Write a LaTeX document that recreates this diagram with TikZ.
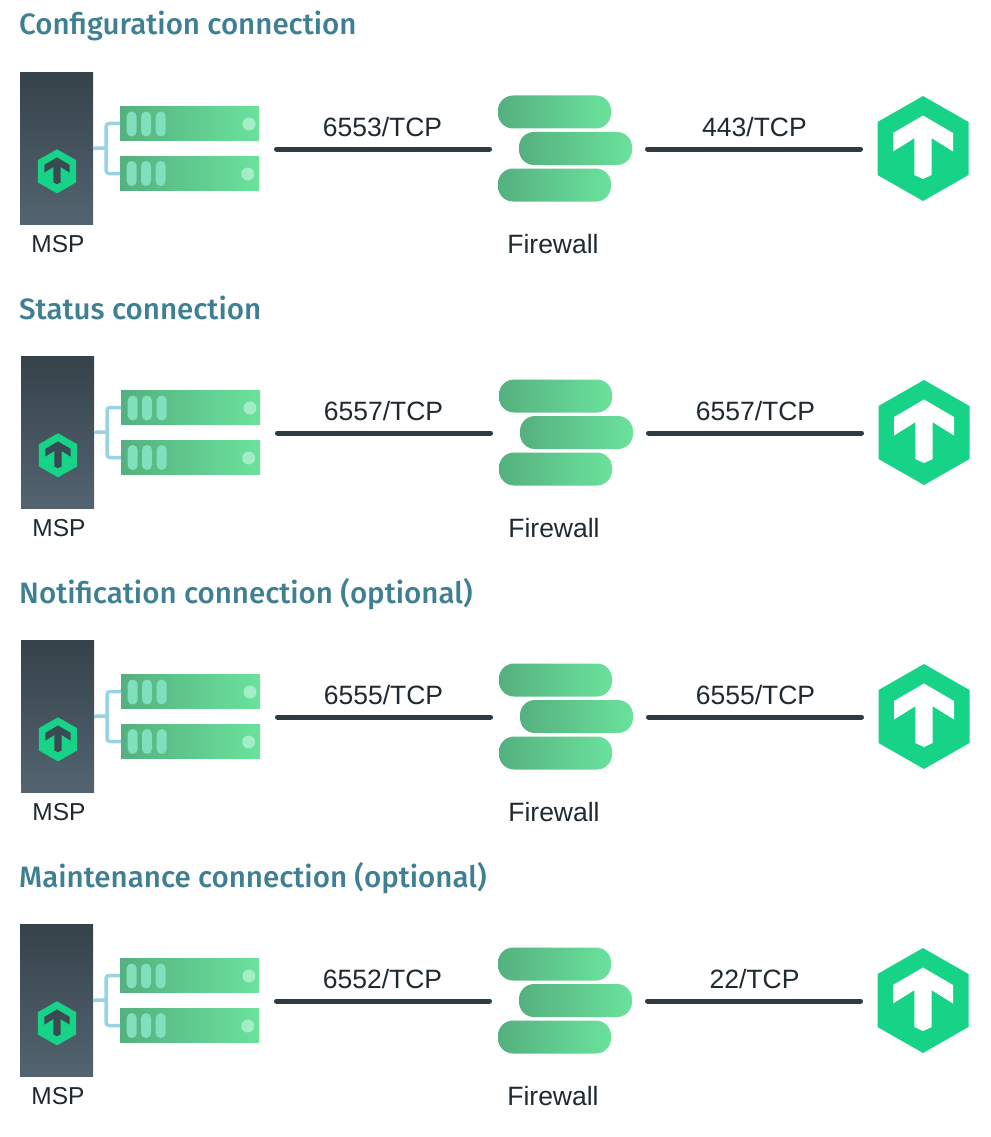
\documentclass[tikz,border=0pt]{standalone}
\usepackage{fontspec}
\setmainfont{Liberation Sans}
\newfontfamily\titlefont{Fira Sans Medium}
\definecolor{ink}{HTML}{1F2A30}
\definecolor{wire}{HTML}{2F3B42}
\definecolor{titleblue}{HTML}{3F7F93}
\definecolor{linkblue}{HTML}{98D3E4}
\definecolor{gleft}{HTML}{55B07F}
\definecolor{gright}{HTML}{6AE29C}
\definecolor{logogreen}{HTML}{16D388}
\definecolor{pill}{HTML}{80DFBC}
\definecolor{dot}{HTML}{A3EEC6}
\definecolor{msptop}{HTML}{36424A}
\definecolor{mspbottom}{HTML}{536470}
\definecolor{arrowdark}{HTML}{3A4A52}
\tikzset{
  x=1pt,y=-1pt,
  labeltext/.style={font=\fontsize{26.5}{30}\selectfont,text=ink,anchor=base,inner sep=0pt},
  msptext/.style={font=\fontsize{24.5}{28}\selectfont,text=ink,anchor=base,inner sep=0pt},
  headtext/.style={font=\titlefont\fontsize{29.5}{34}\selectfont,text=titleblue,anchor=base west,inner sep=0pt},
  mspbox/.style={rectangle,inner sep=0pt,outer sep=0pt,minimum width=73pt,minimum height=152pt,top color=msptop,bottom color=mspbottom},
  serverbox/.style={rectangle,inner sep=0pt,outer sep=0pt,minimum width=139pt,minimum height=34.5pt,left color=gleft,right color=gright},
  fwbar/.style={rectangle,rounded corners=15pt,inner sep=0pt,outer sep=0pt,minimum width=113pt,minimum height=33pt,left color=gleft,right color=gright},
  pillbar/.style={rectangle,rounded corners=5pt,inner sep=0pt,minimum width=10pt,minimum height=25pt,fill=pill},
  leddot/.style={circle,inner sep=0pt,minimum size=13pt,fill=dot},
  link/.style={draw=linkblue,line width=3.5pt,rounded corners=3pt},
  wireline/.style={draw=wire,line width=5pt,line cap=round},
  logomark/.style={inner sep=0pt,outer sep=0pt,minimum width=90pt,minimum height=105pt},
}
\newcommand{\logoshape}[4]{% x, y, scale, arrow colour
  \begin{scope}[shift={(#1,#2)},scale=#3]
    \fill[logogreen] (0,-52.5) -- (45.5,-26.5) -- (45.5,26.5) -- (0,52.5) -- (-45.5,26.5) -- (-45.5,-26.5) -- cycle;
    \fill[#4] (0,-33) -- (30,-15.5) -- (30,3) -- (8.7,-10.3) -- (8.7,26.5) -- (0,30.5) -- (-8.7,26.5) -- (-8.7,-10.3) -- (-30,3) -- (-30,-15.5) -- cycle;
  \end{scope}
}
\begin{document}
\begin{tikzpicture}
\useasboundingbox (0,0) rectangle (990,1137);
\foreach \i/\dx/\dy/\heading/\pa/\pb in {
  1/0/0/Configuration connection/6553/443,
  2/1/284/Status connection/6557/6557,
  3/1/568/Notification connection (optional)/6555/6555,
  4/0/852/Maintenance connection (optional)/6552/22}{
  \node[headtext] (head\i) at (19,35+\dy) {\heading};
  \begin{scope}[shift={(\dx,\dy)}]
    \node[mspbox] (msp\i) at (56.5,148.3) {};
    \node[msptext] (msplabel\i) at (58,252) {MSP};
    \node[serverbox] (srva\i) at (189.5,123.5) {};
    \node[serverbox] (srvb\i) at (189.5,173.5) {};
    \foreach \px in {131.7,146,160.7}{
      \node[pillbar] at (\px,124) {};
      \node[pillbar] at (\px,173.5) {};
    }
    \node[leddot] at (249,124) {};
    \node[leddot] at (247.7,174) {};
    \coordinate (branch\i) at (106,148);
    \draw[link] (msp\i.east) -- (branch\i);
    \draw[link] (srva\i.west) -| (branch\i) |- (srvb\i.west);
    \logoshape{57}{171.3}{0.42}{arrowdark}
    \coordinate (stack\i) at (259,149);
    \node[fwbar] (fwa\i) at (554.5,112) {};
    \node[fwbar] (fwb\i) at (575.5,148.5) {};
    \node[fwbar] (fwc\i) at (554.5,185) {};
    \node[labeltext] (fwlabel\i) at (553,253) {Firewall};
    \node[logomark] (logo\i) at (923,148.5) {};
    \logoshape{923}{148.5}{1}{white}
    \draw[wireline,shorten <=17.5pt,shorten >=29.5pt] (stack\i) -- (fwb\i.west |- stack\i);
    \draw[wireline,shorten <=15.5pt,shorten >=17.5pt] (fwb\i.east |- stack\i) -- (logo\i.west |- stack\i);
    \node[labeltext] (porta\i) at (382.5,136) {\pa/TCP};
    \node[labeltext] (portb\i) at (754.5,136) {\pb/TCP};
  \end{scope}
}
\end{tikzpicture}
\end{document}
